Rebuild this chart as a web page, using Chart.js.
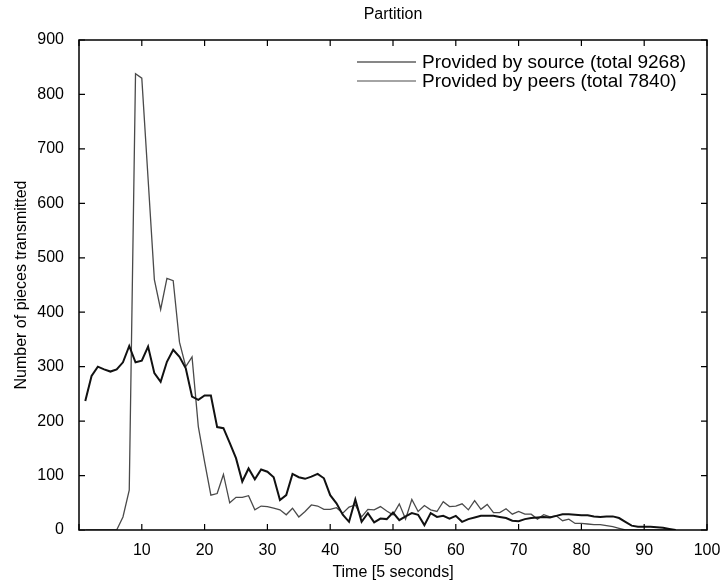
<!DOCTYPE html>
<html>
<head>
<meta charset="utf-8">
<title>Partition</title>
<script src="https://cdn.jsdelivr.net/npm/chart.js@4.4.0/dist/chart.umd.min.js"></script>
<style>
  html, body { margin: 0; padding: 0; background: #fff; }
  #wrap { width: 725px; height: 582px; }
</style>
</head>
<body>
<div id="wrap"><canvas id="partitionChart" width="725" height="582"></canvas></div>
<script>
// time steps (in units of 5 seconds)
const times = [
  1, 2, 3, 4, 5, 6, 7, 8, 9, 10, 11, 12, 13, 14, 15, 16, 17, 18, 19, 20,
  21, 22, 23, 24, 25, 26, 27, 28, 29, 30, 31, 32, 33, 34, 35, 36, 37, 38, 39, 40,
  41, 42, 43, 44, 45, 46, 47, 48, 49, 50, 51, 52, 53, 54, 55, 56, 57, 58, 59, 60,
  61, 62, 63, 64, 65, 66, 67, 68, 69, 70, 71, 72, 73, 74, 75, 76, 77, 78, 79, 80,
  81, 82, 83, 84, 85, 86, 87, 88, 89, 90, 91, 92, 93, 94, 95
];

// pieces provided by the source
const fromSource = [
  237, 283, 300, 295, 291, 295, 308, 338, 308, 311, 337, 288, 272, 309, 331, 318, 297, 245, 239, 247,
  247, 189, 187, 160, 132, 89, 113, 93, 111, 107, 97, 55, 64, 103, 97, 94, 98, 103, 95, 64,
  49, 28, 15, 56, 15, 31, 14, 21, 20, 32, 18, 25, 31, 28, 9, 31, 24, 26, 21, 26,
  15, 20, 23, 26, 26, 26, 24, 22, 17, 16, 20, 22, 23, 24, 23, 26, 29, 29, 28, 27,
  27, 25, 24, 25, 25, 22, 15, 8, 6, 6, 6, 5, 4, 2, 0
];

// pieces provided by peers
const fromPeers = [
  0, 0, 0, 0, 0, 0, 24, 73, 838, 830, 645, 460, 405, 462, 458, 345, 300, 318, 190, 125,
  64, 67, 102, 50, 60, 60, 63, 37, 44, 43, 40, 37, 28, 40, 24, 34, 46, 44, 38, 38,
  41, 31, 42, 46, 24, 38, 37, 43, 35, 28, 48, 20, 56, 34, 45, 37, 34, 52, 43, 44,
  48, 37, 54, 38, 47, 32, 32, 39, 29, 34, 29, 29, 20, 28, 24, 26, 17, 20, 12, 12,
  11, 10, 10, 8, 6, 3, 0, 0, 0, 0, 0, 0, 0, 0, 0
];

const seriesLabels = ["Provided by source (total 9268)", "Provided by peers (total 7840)"];
const xTicks = [0, 100, 10];   // min, max, step
const yTicks = [0, 900, 100];

const FONT = '"Liberation Sans", Arial, Helvetica, sans-serif';
Chart.defaults.font.family = FONT;
Chart.defaults.color = "#000";

// box around the axes with matlab-like inner tick marks
const frameTicks = {
  id: "frameTicks",
  afterDatasetsDraw(chart) {
    const { ctx, chartArea: a, scales: { x, y } } = chart;
    ctx.save();
    ctx.strokeStyle = "#000";
    ctx.lineWidth = 1.5;
    ctx.strokeRect(a.left, a.top, a.right - a.left, a.bottom - a.top);
    ctx.lineWidth = 1.2;
    ctx.beginPath();
    x.ticks.forEach(t => {
      const px = x.getPixelForValue(t.value);
      ctx.moveTo(px, a.bottom); ctx.lineTo(px, a.bottom - 6);
      ctx.moveTo(px, a.top); ctx.lineTo(px, a.top + 6);
    });
    y.ticks.forEach(t => {
      const py = y.getPixelForValue(t.value);
      ctx.moveTo(a.left, py); ctx.lineTo(a.left + 6, py);
      ctx.moveTo(a.right, py); ctx.lineTo(a.right - 6, py);
    });
    ctx.stroke();

    // title
    ctx.fillStyle = "#000";
    ctx.font = "16px " + FONT;
    ctx.textAlign = "center";
    ctx.textBaseline = "middle";
    ctx.fillText("Partition", (a.left + a.right) / 2, 15);

    // legend
    ctx.font = "19px " + FONT;
    ctx.textAlign = "left";
    chart.data.datasets.forEach((ds, i) => {
      const ly = a.top + 22 + i * 19;
      ctx.strokeStyle = ds.borderColor;
      ctx.lineWidth = 1.2;
      ctx.beginPath();
      ctx.moveTo(a.right - 350, ly);
      ctx.lineTo(a.right - 291, ly);
      ctx.stroke();
      ctx.fillText(ds.label, a.right - 285, ly + 1);
    });
    ctx.restore();
  }
};

new Chart(document.getElementById("partitionChart"), {
  type: "line",
  data: {
    datasets: [
      {
        label: seriesLabels[0],
        data: times.map((t, i) => ({ x: t, y: fromSource[i] })),
        borderColor: "#111",
        borderWidth: 2,
        pointRadius: 0,
        tension: 0
      },
      {
        label: seriesLabels[1],
        data: times.map((t, i) => ({ x: t, y: fromPeers[i] })),
        borderColor: "#4a4a4a",
        borderWidth: 1.3,
        pointRadius: 0,
        tension: 0
      }
    ]
  },
  options: {
    responsive: false,
    animation: false,
    layout: { padding: { top: 40, right: 18, left: 0, bottom: 0 } },
    plugins: {
      legend: { display: false },
      title: { display: false },
      tooltip: { enabled: false }
    },
    scales: {
      x: {
        type: "linear",
        min: xTicks[0], max: xTicks[1],
        ticks: {
          stepSize: xTicks[2], padding: 11, maxRotation: 0,
          font: { size: 16 },
          callback: v => (v === 0 ? "" : v)
        },
        grid: { display: false, drawTicks: false },
        border: { display: false },
        title: { display: true, text: "Time [5 seconds]", font: { size: 16 }, padding: 0 },
        afterFit: s => { s.height = 52; s.paddingLeft = 0; s.paddingRight = 0; }
      },
      y: {
        min: yTicks[0], max: yTicks[1],
        ticks: { stepSize: yTicks[2], padding: 15, font: { size: 16 } },
        grid: { display: false, drawTicks: false },
        border: { display: false },
        title: { display: true, text: "Number of pieces transmitted", font: { size: 16 }, padding: { top: 12, bottom: 0 } },
        afterFit: s => { s.width = 79; }
      }
    }
  },
  plugins: [frameTicks]
});
</script>
</body>
</html>
